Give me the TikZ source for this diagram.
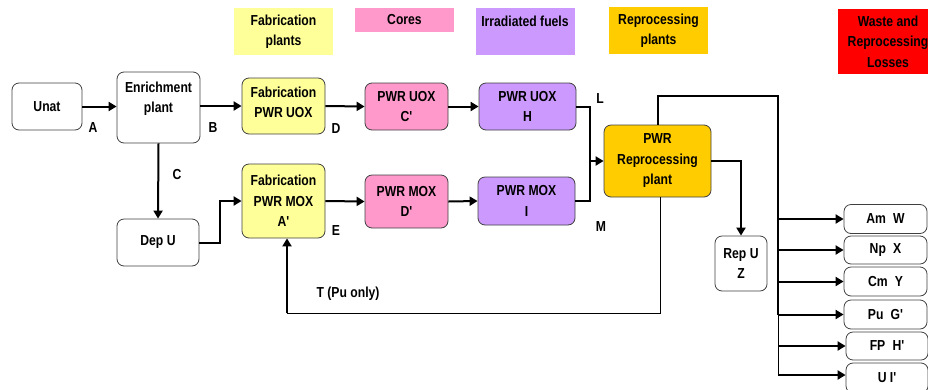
\documentclass[tikz,border=0pt]{standalone}
\usepackage{fontspec}
\setmainfont{Liberation Sans}[FakeStretch=0.84, Ligatures=TeXOff]
\usetikzlibrary{arrows.meta}
\definecolor{fabyellow}{HTML}{FFFF99}
\definecolor{corepink}{HTML}{FF99CC}
\definecolor{fuelviolet}{HTML}{CC99FF}
\definecolor{reproorange}{HTML}{FFCC00}
\definecolor{wastered}{HTML}{FF0000}
\begin{document}
\begin{tikzpicture}[x=1pt,y=-1pt,
  every node/.style={font=\fontsize{14.5}{20.5}\selectfont\bfseries, align=center, inner sep=0pt},
  box/.style={draw=black!75, line width=0.8pt, rounded corners=7pt, fill=white},
  key/.style={minimum width=99pt},
  flow/.style={line width=2pt, -{Triangle[length=8pt,width=9pt]}},
  heavy/.style={line width=2pt},
  light/.style={line width=1pt}
]
\useasboundingbox (0,0) rectangle (928,389);

% colour key
\node[key, fill=fabyellow, minimum height=47pt] (kfab) at (283.5,31.5) {Fabrication\\plants};
\node[key, fill=corepink, minimum height=24pt] (kcore) at (404.5,20) {Cores};
\node[key, fill=fuelviolet, minimum height=47pt] (kfuel) at (525,31.5) {Irradiated fuels\\\mbox{}};
\node[key, fill=reproorange, minimum height=47pt] (krep) at (658.5,30.5) {Reprocessing\\plants};
\node[key, fill=wastered, minimum width=100pt, minimum height=65pt] (kwaste) at (888,41.5) {Waste and\\Reprocessing\\Losses};

% front end
\node[box, minimum width=70pt, minimum height=47pt] (unat) at (47,106.5) {Unat};
\node[box, minimum width=83pt, minimum height=71pt] (enrich) at (158.5,107.5) {Enrichment\\plant\\\mbox{}};
\node[box, minimum width=82pt, minimum height=47pt] (depu) at (158,242.5) {Dep U};

% fabrication
\node[box, fill=fabyellow, minimum width=83pt, minimum height=56pt] (fabuox) at (283.5,106) {};
\node (fabuoxtext) at (283.5,102.5) {Fabrication\\PWR UOX};
\node[box, fill=fabyellow, minimum width=83pt, minimum height=74pt] (fabmox) at (283.5,201) {Fabrication\\PWR MOX\\A'};

% cores
\node[box, fill=corepink, minimum width=83pt, minimum height=47pt] (coreuox) at (406.5,106.5) {PWR UOX\\C'};
\node[box, fill=corepink, minimum width=83pt, minimum height=53pt] (coremox) at (406.5,201.5) {PWR MOX\\D'};

% irradiated fuels
\node[box, fill=fuelviolet, minimum width=97pt, minimum height=47pt] (fueluox) at (527.5,106.5) {PWR UOX\\H};
\node[box, fill=fuelviolet, minimum width=97pt, minimum height=48pt] (fuelmox) at (526.5,201) {PWR MOX\\I};

% reprocessing
\node[box, fill=reproorange, minimum width=107pt, minimum height=72pt] (repro) at (657.5,161) {PWR\\Reprocessing\\plant};
\node[box, minimum width=52pt, minimum height=55pt] (repu) at (741,263.5) {Rep U\\Z};

% outputs
\node[box, minimum width=83pt, minimum height=29pt] (outam) at (885.5,219) {Am\enspace W};
\node[box, minimum width=83pt, minimum height=28pt] (outnp) at (885.5,250) {Np\enspace X};
\node[box, minimum width=83pt, minimum height=29pt] (outcm) at (885.5,281.5) {Cm\enspace Y};
\node[box, minimum width=83pt, minimum height=29pt] (outpu) at (885.5,314.5) {Pu\enspace G'};
\node[box, minimum width=82pt, minimum height=28pt] (outfp) at (887,346) {FP\enspace H'};
\node[box, minimum width=82pt, minimum height=30pt] (outu) at (887,378) {U I'};

% flow labels
\node (la) at (93,128) {A};
\node (lb) at (213,128) {B};
\node (lc) at (177,175) {C};
\node (ld) at (336,129) {D};
\node (le) at (336,231) {E};
\node (ll) at (600,99) {L};
\node (lm) at (601,227) {M};
\node (lt) at (348,294) {T (Pu only)};

% routing points
\coordinate (merge) at (590,161);
\coordinate (bus) at (778,96);
\coordinate (busmid) at (778,315);
\coordinate (busend) at (778,375);
\coordinate (back) at (287,313);

% front end flows
\draw[flow] (unat.east) -- (unat.east -| enrich.west);
\draw[flow] (enrich.east |- fabuox.west) -- (fabuox.west);
\draw[flow] (enrich.south) -- (depu.north);
\draw[flow] (depu.east) -- ++(21,0) |- (fabmox.west);

% UOX and MOX lines
\draw[flow] (fabuox.east) -- (coreuox.west);
\draw[flow] (coreuox.east) -- (fueluox.west);
\draw[flow] (fabmox.east) -- (coremox.west);
\draw[flow] (coremox.east) -- (fuelmox.west);

% spent fuels to reprocessing
\draw[heavy] (fueluox.east) -| (merge) |- (fuelmox.east);
\draw[flow] (merge) -- (repro.west);

% reprocessing outputs
\draw[heavy] (repro.north) |- (bus) -- (busmid);
\draw[light] (busmid) -- (busend);
\draw[flow] (bus |- outam.west) -- (outam.west);
\draw[flow] (bus |- outnp.west) -- (outnp.west);
\draw[flow] (bus |- outcm.west) -- (outcm.west);
\draw[flow] (bus |- outpu.west) -- (outpu.west);
\draw[flow] (bus |- outfp.west) -- (outfp.west);
\draw[flow] (busend) -- (busend -| outu.west);
\draw[flow] (repro.east) -| (repu.north);

% plutonium recycle
\draw[light] ([xshift=2.5pt]repro.south) |- (back);
\draw[flow] (back) -- (back |- fabmox.south);
\end{tikzpicture}
\end{document}
